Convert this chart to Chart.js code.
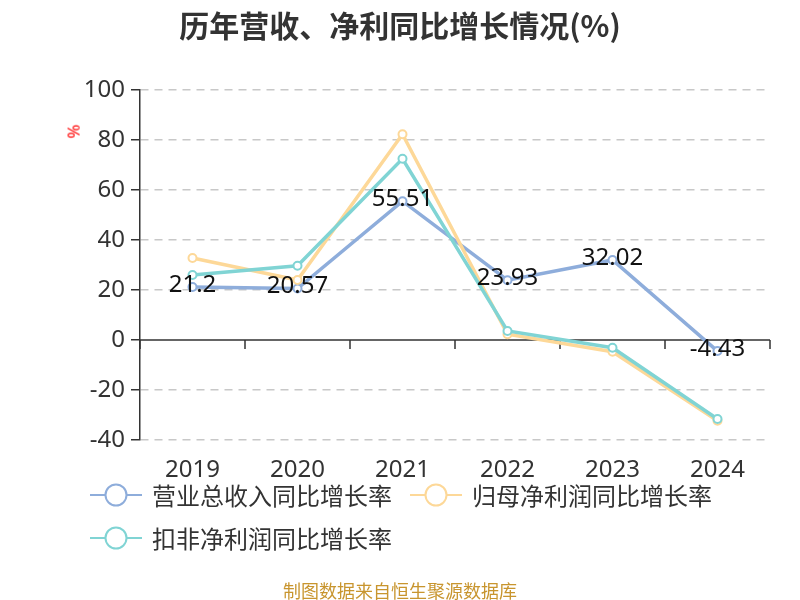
<!DOCTYPE html>
<html>
<head>
<meta charset="utf-8">
<script src="https://cdn.jsdelivr.net/npm/chart.js@4/dist/chart.umd.min.js"></script>
<style>
  body { margin: 0; background: #fff; font-family: "Noto Sans", "Noto Sans CJK SC", sans-serif; }
  #wrap { position: relative; width: 800px; height: 600px; }
  #title { position: absolute; top: 2px; left: 0; width: 800px; text-align: center; font-size: 30px; font-weight: bold; color: #333; font-family: "Noto Sans CJK SC", sans-serif; }
  #unit { position: absolute; left: 66px; top: 120px; color: red; font-size: 17px; transform: rotate(-90deg); }
  .leg { position: absolute; display: flex; align-items: center; font-size: 24px; color: #333; font-family: "Noto Sans CJK SC", sans-serif; }
  .leg svg { margin-right: 10px; }
  #source { position: absolute; top: 577px; left: 0; width: 800px; text-align: center; font-size: 18px; color: #c8952e; font-family: "Noto Sans CJK SC", sans-serif; }
</style>
</head>
<body>
<div id="wrap">
  <canvas id="chart" width="800" height="600"></canvas>
  <div id="title">历年营收、净利同比增长情况(%)</div>
  <div id="unit">%</div>
  <div id="legend"></div>
  <div id="source">制图数据来自恒生聚源数据库</div>
</div>
<script>
const years = ['2019', '2020', '2021', '2022', '2023', '2024'];
const revenueGrowth = [21.2, 20.57, 55.51, 23.93, 32.02, -4.43];
const netProfitGrowth = [32.8, 24.0, 82.3, 2.3, -4.7, -32.3];
const deductedProfitGrowth = [26.0, 29.7, 72.5, 3.6, -3.1, -31.6];
const seriesNames = ['营业总收入同比增长率', '归母净利润同比增长率', '扣非净利润同比增长率'];
const seriesColors = ['#8eaddb', '#fdd898', '#80d4d4'];

// legend, drawn as html
const legendPos = [[90, 477], [410, 477], [90, 520]];
const legend = document.getElementById('legend');
seriesNames.forEach((name, i) => {
  const el = document.createElement('div');
  el.className = 'leg';
  el.style.left = legendPos[i][0] + 'px';
  el.style.top = legendPos[i][1] + 'px';
  el.innerHTML = '<svg width="52" height="28"><line x1="0" y1="14" x2="52" y2="14" stroke="' + seriesColors[i] +
    '" stroke-width="2"/><circle cx="26" cy="14" r="10.5" fill="#fff" stroke="' + seriesColors[i] + '" stroke-width="2"/></svg>' + name;
  legend.appendChild(el);
});

const zeroLine = {
  id: 'zeroLine',
  beforeDatasetsDraw(chart) {
    const { ctx, chartArea, scales: { x, y } } = chart;
    const y0 = y.getPixelForValue(0);
    ctx.save();
    ctx.strokeStyle = '#333';
    ctx.lineWidth = 1.5;
    ctx.beginPath();
    ctx.moveTo(chartArea.left, y0);
    ctx.lineTo(chartArea.right, y0);
    for (let i = 0; i <= years.length; i++) {
      const px = Math.round(x.getPixelForValue(i - 0.5));
      ctx.moveTo(px, y0);
      ctx.lineTo(px, y0 + 9);
    }
    ctx.stroke();
    ctx.restore();
  },
  afterDatasetsDraw(chart) {
    const { ctx } = chart;
    const meta = chart.getDatasetMeta(0);
    ctx.save();
    ctx.font = '24px "Noto Sans", sans-serif';
    ctx.fillStyle = '#111';
    ctx.textAlign = 'center';
    ctx.textBaseline = 'middle';
    meta.data.forEach((pt, i) => {
      ctx.fillText(String(revenueGrowth[i]), pt.x, pt.y - 2);
    });
    ctx.restore();
  }
};

function makeSet(i, data) {
  return {
    label: seriesNames[i],
    data: data,
    borderColor: seriesColors[i],
    backgroundColor: '#fff',
    pointBackgroundColor: '#fff',
    pointBorderColor: seriesColors[i],
    borderWidth: 3.5,
    pointRadius: 4,
    pointBorderWidth: 2,
    tension: 0,
    order: 3 - i
  };
}

new Chart(document.getElementById('chart'), {
  type: 'line',
  data: {
    labels: years,
    datasets: [
      makeSet(0, revenueGrowth),
      makeSet(1, netProfitGrowth),
      makeSet(2, deductedProfitGrowth)
    ]
  },
  options: {
    responsive: false,
    animation: false,
    layout: { padding: { top: 90, left: 0, right: 30, bottom: 120 } },
    plugins: { legend: { display: false }, tooltip: { enabled: false }, title: { display: false } },
    scales: {
      x: {
        offset: true,
        grid: { display: false },
        border: { display: false },
        ticks: { color: '#333', padding: 8, font: { size: 24, family: '"Noto Sans", sans-serif' } },
        afterFit(scale) { scale.height = 40; }
      },
      y: {
        min: -40,
        max: 100,
        ticks: { stepSize: 20, color: '#333', padding: 6, font: { size: 24, family: '"Noto Sans", sans-serif' } },
        grid: {
          color: ctx => ctx.tick && ctx.tick.value === 0 ? 'rgba(0,0,0,0)' : '#c8c8c8',
          lineWidth: 1.5,
          tickColor: '#333',
          tickLength: 9,
          tickBorderDash: []
        },
        border: { display: true, color: '#333', width: 1.5, dash: [8, 6] },
        afterFit(scale) { scale.width = 140; }
      }
    }
  },
  plugins: [zeroLine]
});
</script>
</body>
</html>
